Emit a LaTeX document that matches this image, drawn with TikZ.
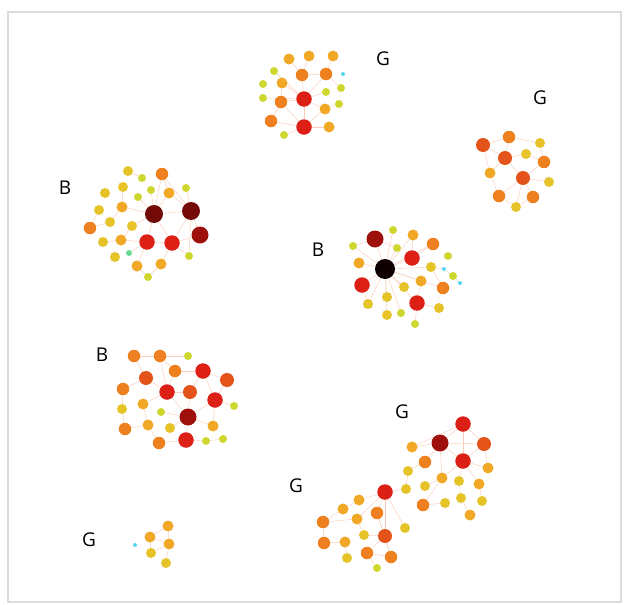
\documentclass[tikz,border=0pt]{standalone}
\usepackage{fontspec}
\setsansfont{Open Sans}
\usepackage{xcolor}
\usepackage{tikz}
\usetikzlibrary{backgrounds}
\definecolor{cCy}{RGB}{85,215,235}
\definecolor{cTg}{RGB}{105,215,150}
\definecolor{cYg}{RGB}{205,215,45}
\definecolor{cYe}{RGB}{230,195,40}
\definecolor{cYo}{RGB}{240,168,38}
\definecolor{cOr}{RGB}{238,128,32}
\definecolor{cOrr}{RGB}{228,84,26}
\definecolor{cRd}{RGB}{220,32,22}
\definecolor{cDr}{RGB}{158,16,12}
\definecolor{cMr}{RGB}{115,10,6}
\definecolor{cBk}{RGB}{14,0,0}
\definecolor{linkc}{RGB}{249,204,184}
\definecolor{framec}{RGB}{220,220,220}

\begin{document}
\begin{tikzpicture}[
  x=1pt, y=-1pt,
  font=\sffamily,
  dot/.style={circle, inner sep=0pt, draw=none},
  nCy/.style={fill=cCy, minimum size=4pt},
  nTg/.style={fill=cTg, minimum size=6pt},
  nYg/.style={fill=cYg, minimum size=8pt},
  nYe/.style={fill=cYe, minimum size=10pt},
  nYo/.style={fill=cYo, minimum size=11pt},
  nOr/.style={fill=cOr, minimum size=12.5pt},
  nOrr/.style={fill=cOrr, minimum size=14pt},
  nRd/.style={fill=cRd, minimum size=15.5pt},
  nDr/.style={fill=cDr, minimum size=17pt},
  nMr/.style={fill=cMr, minimum size=18pt},
  nBk/.style={fill=cBk, minimum size=20pt},
  link/.style={draw=linkc, line width=0.45pt},
  lbl/.style={font=\sffamily\fontsize{19}{21}\selectfont, inner sep=0pt},
]
\useasboundingbox (0,0) rectangle (624,605);
\draw[framec, line width=2.5pt] (8,12) rectangle (621,602);

% top G
\foreach \n/\x/\y/\c in {1/289/59/nYo, 2/309/56/nYo, 3/333/56/nYo, 4/274/71/nYg, 5/302/75/nOr,
  6/326/74/nOr, 7/343/74/nCy, 8/263/84/nYg, 9/282/83/nYo, 10/326/92/nYg, 11/341/88/nYg,
  12/263/98/nYg, 13/281/102/nOr, 14/304/99/nRd, 15/325/109/nYo, 16/339/104/nYg,
  17/271/121/nOr, 18/304/127/nRd, 19/329/127/nYo, 20/284/135/nYg}
  \node[dot,\c] (a\n) at (\x,\y) {};
% right G
\foreach \n/\x/\y/\c in {1/483/145/nOrr, 2/509/137/nOr, 3/540/143/nYe, 4/505/158/nOrr,
  5/526/154/nYe, 6/544/162/nOr, 7/490/173/nYo, 8/523/178/nOrr, 9/549/182/nYe,
  10/499/196/nOr, 11/533/197/nOr, 12/516/207/nYe}
  \node[dot,\c] (b\n) at (\x,\y) {};
% left B
\foreach \n/\x/\y/\c in {1/128/171/nYe, 2/162/174/nOr, 3/142/178/nYg, 4/123/187/nYe,
  5/151/190/nYg, 6/169/193/nYo, 7/186/188/nYg, 8/105/193/nYe, 9/138/197/nYg,
  10/99/210/nYe, 11/122/207/nYo, 12/154/214/nMr, 13/191/211/nMr, 14/90/228/nOr,
  15/110/222/nYe, 16/132/226/nYe, 17/200/235/nDr, 18/103/242/nYe, 19/121/240/nYo,
  20/147/242/nRd, 21/172/243/nRd, 22/129/253/nTg, 23/115/257/nYe, 24/189/256/nYg,
  25/137/266/nYo, 26/161/264/nYo, 27/148/277/nYg}
  \node[dot,\c] (c\n) at (\x,\y) {};
% centre B
\foreach \n/\x/\y/\c in {1/375/239/nDr, 2/393/230/nYg, 3/413/235/nYo, 4/433/244/nOr,
  5/353/246/nYg, 6/397/248/nYg, 7/412/258/nRd, 8/448/256/nYg, 9/359/263/nYo,
  10/385/269/nBk, 11/431/267/nYe, 12/444/269/nCy, 13/453/276/nYg, 14/460/283/nCy,
  15/362/285/nRd, 16/421/281/nYo, 17/404/287/nYe, 18/443/288/nOr, 19/387/297/nYe,
  20/417/303/nRd, 21/368/304/nYe, 22/439/308/nYe, 23/387/315/nYe, 24/401/313/nYg,
  25/415/324/nYg}
  \node[dot,\c] (d\n) at (\x,\y) {};
% lower left B
\foreach \n/\x/\y/\c in {1/134/356/nOr, 2/160/356/nOr, 3/188/356/nYg, 4/175/371/nOr,
  5/203/371/nRd, 6/146/378/nOrr, 7/227/380/nOrr, 8/123/389/nOr, 9/167/392/nRd,
  10/190/392/nOrr, 11/215/400/nRd, 12/234/406/nYg, 13/122/409/nYe, 14/143/404/nYo,
  15/161/412/nYg, 16/188/417/nDr, 17/148/425/nYo, 18/170/428/nYe, 19/213/426/nYo,
  20/125/429/nOr, 21/159/443/nOr, 22/186/440/nRd, 23/206/441/nYg, 24/223/439/nYg}
  \node[dot,\c] (e\n) at (\x,\y) {};
% lower middle G
\foreach \n/\x/\y/\c in {1/385/492/nRd, 2/359/500/nYo, 3/343/509/nYo, 4/377/513/nOr,
  5/323/522/nOr, 6/357/519/nYo, 7/364/535/nYe, 8/385/536/nOrr, 9/405/528/nYe,
  10/324/543/nOr, 11/345/542/nYo, 12/367/553/nOr, 13/391/557/nOr, 14/347/558/nYe,
  15/377/568/nYg}
  \node[dot,\c] (f\n) at (\x,\y) {};
% lower right G
\foreach \n/\x/\y/\c in {1/463/424/nRd, 2/440/443/nDr, 3/484/444/nOrr, 4/412/447/nYo,
  5/463/461/nRd, 6/425/462/nOr, 7/488/468/nYo, 8/408/471/nYe, 9/442/478/nYo,
  10/459/481/nYe, 11/479/484/nYo, 12/425/486/nYe, 13/406/489/nYe, 14/461/498/nYe,
  15/482/501/nYe, 16/423/505/nOr, 17/445/503/nYe, 18/470/515/nYo}
  \node[dot,\c] (g\n) at (\x,\y) {};
% bottom left G
\foreach \n/\x/\y/\c in {1/135/545/nCy, 2/150/537/nYo, 3/168/526/nYo, 4/169/544/nYo,
  5/151/553/nYe, 6/166/563/nYe}
  \node[dot,\c] (h\n) at (\x,\y) {};

\begin{scope}[on background layer]
\foreach \p/\q in {a14/a5, a14/a6, a14/a9, a14/a10, a14/a13, a14/a15, a14/a18, a14/a12,
  a14/a4, a18/a17, a18/a19, a18/a20, a18/a13, a18/a15, a5/a6, a5/a2, a6/a3, a1/a5,
  a13/a17, a9/a13, a6/a11, a15/a16,
  b4/b1, b4/b2, b4/b7, b4/b8, b4/b5, b8/b6, b8/b9, b8/b10, b8/b11, b8/b12, b1/b2,
  b1/b7, b2/b3, b5/b6, b10/b12, b7/b10, b11/b12, b6/b3,
  c12/c2, c12/c6, c12/c9, c12/c11, c12/c16, c12/c20, c12/c21, c12/c13, c12/c5,
  c13/c2, c13/c6, c13/c7, c13/c17, c13/c21, c13/c24, c17/c21, c20/c21, c20/c19,
  c20/c25, c20/c22, c21/c26, c21/c24, c11/c4, c11/c15, c16/c19, c14/c15, c10/c14,
  c19/c18, c25/c27, c26/c27, c1/c3, c2/c6,
  d10/d1, d10/d2, d10/d3, d10/d5, d10/d6, d10/d7, d10/d9, d10/d11, d10/d15, d10/d16,
  d10/d17, d10/d19, d10/d20, d10/d21, d10/d23, d10/d24, d10/d4, d10/d18, d1/d6,
  d1/d5, d7/d3, d7/d4, d11/d12, d12/d13, d13/d14, d20/d22, d20/d25, d20/d16,
  d18/d11, d15/d21,
  e16/e9, e16/e10, e16/e11, e16/e18, e16/e19, e16/e22, e16/e15, e9/e6, e9/e4,
  e9/e10, e9/e14, e9/e2, e5/e4, e5/e7, e5/e10, e5/e11, e11/e7, e11/e12, e11/e19,
  e22/e21, e22/e23, e23/e24, e6/e1, e6/e8, e8/e13, e13/e20, e14/e17, e17/e20,
  e17/e21, e1/e2, e2/e3, e4/e2,
  f1/f2, f1/f4, f1/f8, f1/f9, f1/f6, f4/f8, f8/f13, f8/f12, f8/f7, f5/f6, f5/f10,
  f3/f5, f10/f11, f11/f14, f12/f13, f12/f15, f6/f7, f2/f3, f4/f13, f1/g13,
  g2/g1, g2/g3, g2/g5, g2/g4, g2/g6, g2/g9, g1/g3, g1/g5, g5/g3, g5/g7, g5/g10,
  g5/g11, g5/g9, g3/g7, g6/g8, g9/g12, g9/g16, g10/g14, g11/g15, g14/g18,
  g16/g17, g4/g1, g8/g13,
  h2/h3, h2/h4, h4/h5, h4/h6, h2/h5, h3/h4}
  \draw[link] (\p) -- (\q);
\end{scope}

\node[lbl] (lGa) at (383,59) {G};
\node[lbl] (lGb) at (540,98) {G};
\node[lbl] (lBc) at (65,188) {B};
\node[lbl] (lBd) at (318,250) {B};
\node[lbl] (lBe) at (102,355) {B};
\node[lbl] (lGg) at (402,412) {G};
\node[lbl] (lGf) at (296,486) {G};
\node[lbl] (lGh) at (89,540) {G};
\end{tikzpicture}
\end{document}
